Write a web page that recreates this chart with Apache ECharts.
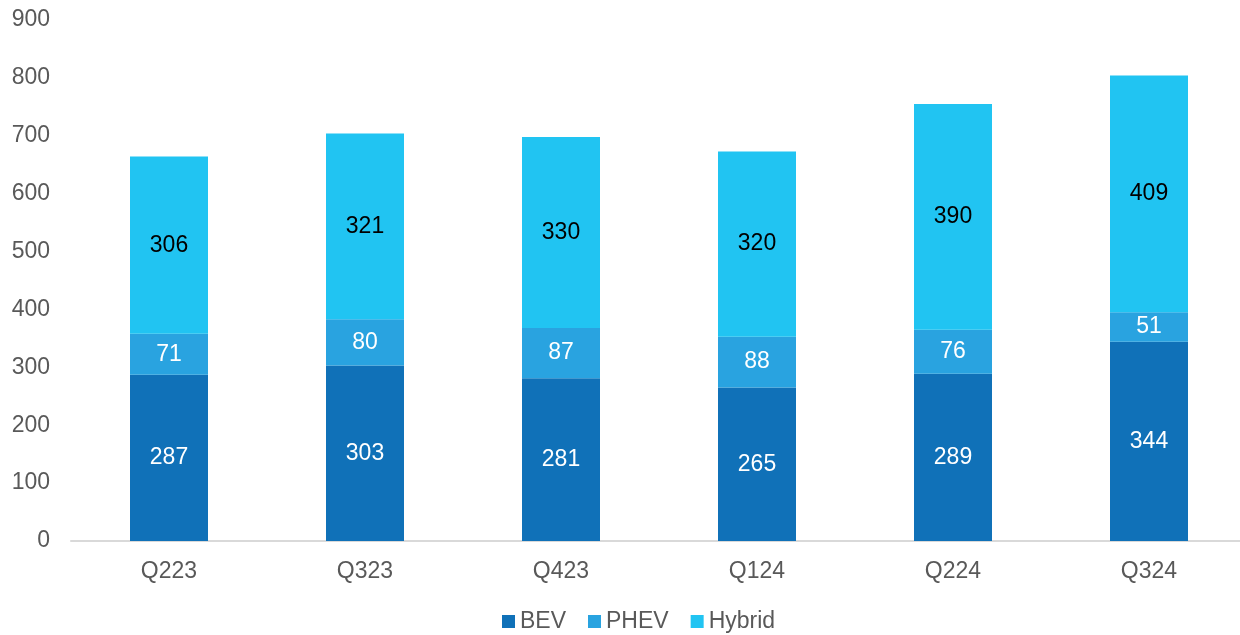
<!DOCTYPE html>
<html>
<head>
<meta charset="utf-8">
<style>
  html, body { margin: 0; padding: 0; background: #fff; }
  #chart { width: 1240px; height: 635px; }
</style>
<script src="https://cdn.jsdelivr.net/npm/echarts@6/dist/echarts.min.js"></script>
</head>
<body>
<div id="chart"></div>
<script>
// quarterly sales by powertrain
const quarters = ["Q223", "Q323", "Q423", "Q124", "Q224", "Q324"];
const bev = [287, 303, 281, 265, 289, 344];
const phev = [71, 80, 87, 88, 76, 51];
const hybrid = [306, 321, 330, 320, 390, 409];

const font = "Liberation Sans, Arial, sans-serif";

function barSeries(name, data, color, labelColor) {
  return {
    name: name,
    type: "bar",
    stack: "total",
    barWidth: 78,
    data: data,
    itemStyle: { color: color },
    label: {
      show: true,
      position: "inside",
      color: labelColor,
      fontSize: 23,
      fontFamily: font,
      padding: [4, 0, 0, 0]
    }
  };
}

let myChart = echarts.init(document.getElementById("chart"));
myChart.setOption({
  animation: false,
  grid: {
    left: 71,
    top: 20,
    bottom: 94,
    width: 1176,
    outerBoundsMode: "none"
  },
  legend: {
    top: 605,
    left: 497,
    itemWidth: 13,
    itemHeight: 13,
    itemGap: 22,
    icon: "rect",
    textStyle: { color: "#595959", fontSize: 23, fontFamily: font, padding: [0, 0, 0, 0] },
    data: ["BEV", "PHEV", "Hybrid"]
  },
  xAxis: {
    type: "category",
    data: quarters,
    axisTick: { show: false },
    axisLine: { lineStyle: { color: "#d9d9d9", width: 2 } },
    axisLabel: { color: "#595959", fontSize: 23, fontFamily: font, margin: 19 }
  },
  yAxis: {
    type: "value",
    min: 0,
    max: 900,
    interval: 100,
    splitLine: { show: false },
    axisLine: { show: false },
    axisTick: { show: false },
    axisLabel: { color: "#595959", fontSize: 23, fontFamily: font, margin: 21, padding: [4, 0, 0, 0] }
  },
  series: [
    barSeries("BEV", bev, "#1071b8", "#ffffff"),
    barSeries("PHEV", phev, "#29a3e0", "#ffffff"),
    barSeries("Hybrid", hybrid, "#21c4f2", "#000000")
  ]
});
</script>
</body>
</html>
